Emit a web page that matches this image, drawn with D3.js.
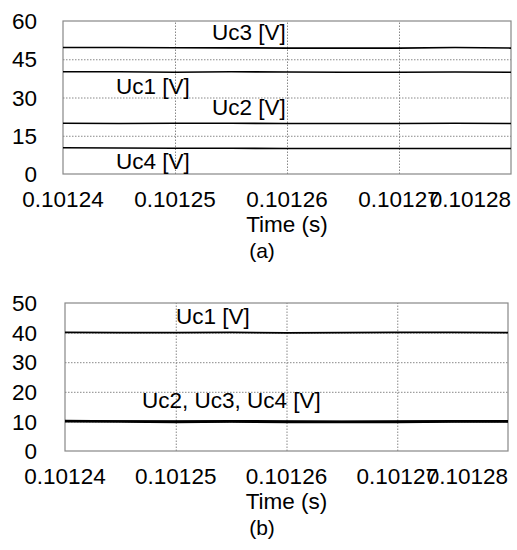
<!DOCTYPE html>
<html>
<head>
<meta charset="utf-8">
<script src="https://cdn.jsdelivr.net/npm/d3@7"></script>
<style>
  body { margin: 0; background: #fff; }
  svg { display: block; font-family: "Liberation Sans", Arial, sans-serif; }
  .grid line { stroke: #888; stroke-dasharray: 1.5,1.5; stroke-width: 1; }
  .frame { fill: none; stroke: #888; stroke-width: 1.2; }
  .data-line { fill: none; stroke: #000; stroke-width: 1.7; }
</style>
</head>
<body>
<svg width="517" height="550"></svg>
<script>
// sample times (s)
let time = [0.10124, 0.101245, 0.10125, 0.101255, 0.10126, 0.101265, 0.10127, 0.101275, 0.10128];
let xTicks = [0.10124, 0.10125, 0.10126, 0.10127, 0.10128];

// panel (a)
let a_Uc3 = [49.6, 49.6, 49.5, 49.5, 49.4, 49.4, 49.4, 49.6, 49.4];
let a_Uc1 = [40.1, 40.1, 39.9, 40.1, 40.0, 39.9, 39.9, 40.0, 39.9];
let a_Uc2 = [19.9, 19.8, 19.9, 19.9, 19.8, 19.8, 19.8, 19.9, 19.8];
let a_Uc4 = [10.3, 10.2, 10.1, 10.1, 10.0, 10.0, 10.0, 10.0, 10.0];
let a_yTicks = [0, 15, 30, 45, 60];

// panel (b)
let b_Uc1 = [40.1, 40.0, 40.0, 40.1, 39.9, 40.0, 40.1, 40.1, 40.0];
let b_Uc2 = [10.3, 10.1, 10.1, 10.2, 10.1, 10.0, 10.1, 10.2, 10.2];
let b_Uc3 = [9.9, 9.8, 9.7, 9.8, 9.7, 9.7, 9.7, 9.8, 9.8];
let b_Uc4 = [10.1, 10.1, 9.9, 10.0, 9.9, 9.9, 9.9, 10.0, 10.0];
let b_yTicks = [0, 10, 20, 30, 40, 50];

let svg = d3.select("svg");
svg.append("rect").attr("width", 517).attr("height", 550).attr("fill", "#fff");

const fs = 22.5;

function panel(box, yMax, yTicks, series, labels, caption) {
    let x = d3.scaleLinear().domain([xTicks[0], xTicks[xTicks.length - 1]]).range([box.left, box.right]);
    let y = d3.scaleLinear().domain([0, yMax]).range([box.bottom, box.top]);
    let g = svg.append("g");

    // gridlines
    g.append("g")
        .attr("class", "grid")
        .attr("transform", "translate(0," + box.bottom + ")")
        .call(d3.axisBottom(x).tickValues(xTicks.slice(1, -1)).tickSize(-(box.bottom - box.top)).tickFormat(""))
        .call(s => s.select(".domain").remove());
    g.append("g")
        .attr("class", "grid")
        .attr("transform", "translate(" + box.left + ",0)")
        .call(d3.axisLeft(y).tickValues(yTicks.slice(1, -1)).tickSize(-(box.right - box.left)).tickFormat(""))
        .call(s => s.select(".domain").remove());

    g.append("rect")
        .attr("class", "frame")
        .attr("x", box.left).attr("y", box.top)
        .attr("width", box.right - box.left).attr("height", box.bottom - box.top);

    let line = d3.line()
        .x((d, i) => x(time[i]))
        .y(d => y(d));

    series.forEach(s => {
        g.append("path")
            .datum(s)
            .attr("class", "data-line")
            .attr("d", line);
    });

    // y tick labels
    g.selectAll(".ylab")
        .data(yTicks)
        .enter().append("text")
        .attr("x", 37)
        .attr("y", d => y(d))
        .attr("dy", "0.36em")
        .attr("text-anchor", "end")
        .attr("font-size", fs)
        .text(d => d);

    // x tick labels
    g.selectAll(".xlab")
        .data(xTicks)
        .enter().append("text")
        .attr("x", d => x(d))
        .attr("y", box.bottom + 33)
        .attr("text-anchor", (d, i) => i === xTicks.length - 1 ? "end" : "middle")
        .attr("font-size", fs)
        .text(d => d3.format(".5f")(d));

    g.append("text")
        .attr("x", x(0.10126))
        .attr("y", box.bottom + 58)
        .attr("text-anchor", "middle")
        .attr("font-size", fs)
        .text("Time (s)");

    g.append("text")
        .attr("x", 262)
        .attr("y", box.bottom + 84)
        .attr("text-anchor", "middle")
        .attr("font-size", 21)
        .text(caption);

    labels.forEach(l => {
        g.append("text")
            .attr("x", l.x)
            .attr("y", l.y)
            .attr("font-size", fs)
            .text(l.text);
    });
}

panel({ left: 63, right: 511, top: 21, bottom: 174 }, 60, a_yTicks,
    [a_Uc3, a_Uc1, a_Uc2, a_Uc4],
    [{ text: "Uc3 [V]", x: 212, y: 40 },
     { text: "Uc1 [V]", x: 116, y: 94 },
     { text: "Uc2 [V]", x: 212, y: 115 },
     { text: "Uc4 [V]", x: 116, y: 169 }],
    "(a)");

panel({ left: 65, right: 508, top: 303, bottom: 451 }, 50, b_yTicks,
    [b_Uc1, b_Uc2, b_Uc3, b_Uc4],
    [{ text: "Uc1 [V]", x: 176, y: 324 },
     { text: "Uc2, Uc3, Uc4 [V]", x: 142, y: 408 }],
    "(b)");
</script>
</body>
</html>
